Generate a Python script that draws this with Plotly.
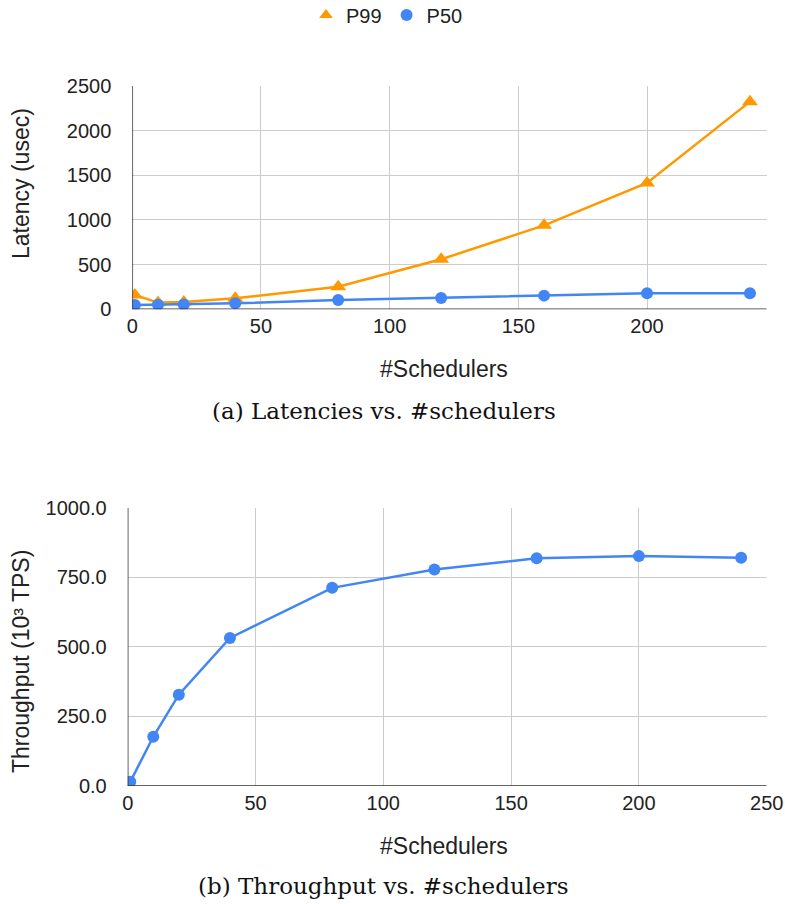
import plotly.graph_objects as go

# ---- data ----
schedulers = [1, 10, 20, 40, 80, 120, 160, 200, 240]
p99_latency = [160, 75, 82, 123, 253, 560, 940, 1415, 2325]
p50_latency = [48, 52, 55, 67, 104, 127, 153, 179, 180]
throughput = [15, 177, 328, 532, 712, 778, 818, 826, 820]

lat_ticks = [0, 500, 1000, 1500, 2000, 2500]
tp_ticks = [0, 250, 500, 750, 1000]
tp_tick_labels = ["0.0", "250.0", "500.0", "750.0", "1000.0"]
x_ticks_top = [0, 50, 100, 150, 200]
x_ticks_bottom = [0, 50, 100, 150, 200, 250]

ORANGE = "#FF9900"
BLUE = "#4285F4"
W, H = 785, 904
FONT = "Liberation Sans, Arial, sans-serif"
SERIF = "DejaVu Serif, serif"
TXT = "#222222"

fig = go.Figure()

fig.add_trace(go.Scatter(
    x=schedulers, y=p99_latency, name="P99", mode="lines+markers",
    line=dict(color=ORANGE, width=2.5),
    marker=dict(symbol="triangle-up", size=14, color=ORANGE),
    xaxis="x", yaxis="y", showlegend=False))
fig.add_trace(go.Scatter(
    x=schedulers, y=p50_latency, name="P50", mode="lines+markers",
    line=dict(color=BLUE, width=2.5),
    marker=dict(symbol="circle", size=12, color=BLUE),
    xaxis="x", yaxis="y", showlegend=False))
fig.add_trace(go.Scatter(
    x=schedulers, y=throughput, name="Throughput", mode="lines+markers",
    line=dict(color=BLUE, width=2.5),
    marker=dict(symbol="circle", size=12, color=BLUE),
    xaxis="x2", yaxis="y2", showlegend=False))
# legend entries (markers only, as in the reference)
fig.add_trace(go.Scatter(x=[None], y=[None], name="P99", mode="markers",
                         marker=dict(symbol="triangle-up", size=15, color=ORANGE),
                         xaxis="x", yaxis="y"))
fig.add_trace(go.Scatter(x=[None], y=[None], name="P50", mode="markers",
                         marker=dict(symbol="circle", size=15, color=BLUE),
                         xaxis="x", yaxis="y"))


def px_x(p):
    return p / W


def px_y(p):
    return 1 - p / H


common_axis = dict(
    showgrid=True, gridcolor="#CCCCCC", gridwidth=1,
    zeroline=False, tickfont=dict(family=FONT, size=20, color=TXT),
    ticks="", showline=False, ticklabeloverflow="allow", automargin=False,
)

fig.update_layout(
    width=W, height=H,
    margin=dict(l=0, r=0, t=0, b=0, pad=0, autoexpand=False),
    paper_bgcolor="white", plot_bgcolor="white",
    font=dict(family=FONT, color=TXT),
    showlegend=True,
    legend=dict(orientation="h", x=px_x(387), xanchor="center",
                y=px_y(15), yanchor="middle",
                font=dict(family=FONT, size=20, color=TXT),
                itemsizing="constant", itemwidth=30, tracegroupgap=0),
    xaxis=dict(common_axis, domain=[px_x(132.3), px_x(766.7)], range=[0, 246.5],
               tickvals=x_ticks_top, anchor="y", ticklabelstandoff=3),
    yaxis=dict(common_axis, domain=[px_y(309.3), px_y(86)], range=[0, 2500],
               tickvals=lat_ticks, anchor="x", ticklabelstandoff=20),
    xaxis2=dict(common_axis, domain=[px_x(127.7), px_x(766.7)], range=[0, 250],
                tickvals=x_ticks_bottom, anchor="y2", ticklabelstandoff=3),
    yaxis2=dict(common_axis, domain=[px_y(786), px_y(507.7)], range=[0, 1000],
                tickvals=tp_ticks, ticktext=tp_tick_labels, anchor="x2",
                ticklabelstandoff=20),
)

shapes = []
for xr, yr, xmax, ymax in (("x", "y", 246.5, 2500), ("x2", "y2", 250, 1000)):
    shapes.append(dict(type="line", xref=xr, yref=yr, x0=0, x1=0, y0=0, y1=ymax,
                       line=dict(color="#333333", width=1.5)))
    shapes.append(dict(type="line", xref=xr, yref=yr, x0=0, x1=xmax, y0=0, y1=0,
                       line=dict(color="#333333", width=1.5)))
fig.update_layout(shapes=shapes)


def note(text, x, y, size, family=FONT, angle=0, color=TXT):
    return dict(text=text, x=px_x(x), y=px_y(y), xref="paper", yref="paper",
                textangle=angle, showarrow=False,
                font=dict(family=family, size=size, color=color),
                xanchor="center", yanchor="middle")


ann = [
    note("Latency (usec)", 21, 184, 23, angle=-90),
    note("#Schedulers", 444, 369, 23),
    note("Throughput (10³ TPS)", 21, 662, 23, angle=-90),
    note("#Schedulers", 444, 846, 23),
    note("(a) Latencies vs. #schedulers", 383.5, 411, 23, family=SERIF, color="#111111"),
    note("(b) Throughput vs. #schedulers", 383.7, 886, 23, family=SERIF, color="#111111"),
]
fig.update_layout(annotations=ann)

fig.write_html(
    "out.html",
    config={"displayModeBar": False},
    post_script="document.body.style.margin='0';"
                "document.documentElement.style.overflow='hidden';",
)
